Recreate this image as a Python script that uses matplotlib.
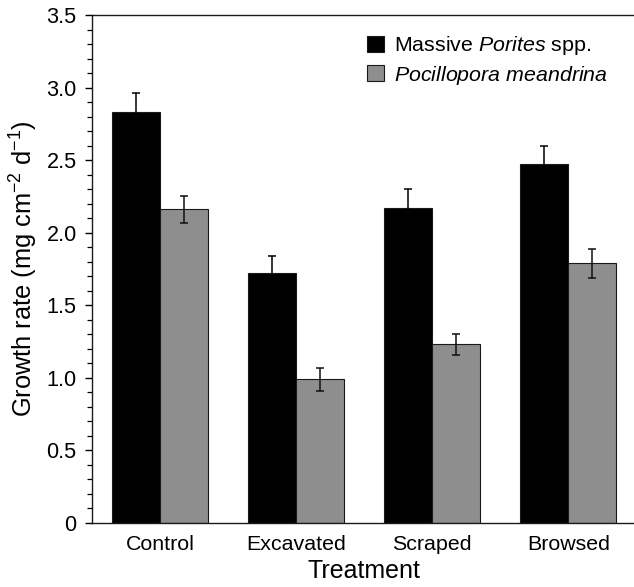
import numpy as np
import matplotlib
matplotlib.use("Agg")
import matplotlib.pyplot as plt
from matplotlib.ticker import MultipleLocator, FuncFormatter

plt.rcParams["font.family"] = ["Liberation Sans", "DejaVu Sans"]
plt.rcParams["mathtext.fontset"] = "custom"
plt.rcParams["mathtext.rm"] = "Liberation Sans"
plt.rcParams["mathtext.it"] = "Liberation Sans:italic"

treatments = ["Control", "Excavated", "Scraped", "Browsed"]
porites_mean = [2.83, 1.72, 2.17, 2.47]
porites_se = [0.13, 0.12, 0.13, 0.13]
pocillopora_mean = [2.16, 0.99, 1.23, 1.79]
pocillopora_se = [0.09, 0.08, 0.07, 0.10]

W, H = 634, 587
fig = plt.figure(figsize=(W / 100, H / 100), dpi=100)
ax = fig.add_axes([92 / W, (H - 523) / H, (636.5 - 92) / W, 508 / H])

x = np.arange(len(treatments))
bw = 0.353
ax.bar(x - bw / 2, porites_mean, bw, color="black", edgecolor="#1a1a1a",
       linewidth=0.8, label="Massive $\\mathit{Porites}$ spp.", zorder=2)
ax.bar(x + bw / 2, pocillopora_mean, bw, color="#8e8e8e", edgecolor="#1a1a1a",
       linewidth=0.8, label="$\\mathit{Pocillopora\\ meandrina}$", zorder=2)
ax.errorbar(x - bw / 2, porites_mean, yerr=porites_se, fmt="none",
            ecolor="black", elinewidth=1.1, capsize=2.6, capthick=1.1, zorder=3)
ax.errorbar(x + bw / 2, pocillopora_mean, yerr=pocillopora_se, fmt="none",
            ecolor="#111111", elinewidth=1.1, capsize=2.6, capthick=1.1, zorder=3)

ax.set_xlim(-0.5, 3.5)
ax.set_ylim(0, 3.5)
ax.set_xticks(x)
ax.set_xticklabels(treatments, fontsize=15.4)
ax.tick_params(axis="x", length=0, pad=9)
ax.yaxis.set_major_locator(MultipleLocator(0.5))
ax.yaxis.set_minor_locator(MultipleLocator(0.1))
ax.yaxis.set_major_formatter(FuncFormatter(lambda v, p: "0" if v == 0 else f"{v:.1f}"))
ax.tick_params(axis="y", which="major", length=5, width=1.0, direction="out",
               labelsize=15.6, pad=6)
ax.tick_params(axis="y", which="minor", length=3.5, width=0.9, direction="out")
for s in ax.spines.values():
    s.set_linewidth(1.0)
    s.set_color("#1a1a1a")

ax.set_xlabel("Treatment", fontsize=18, labelpad=3)
ax.set_ylabel("Growth rate (mg cm$^{-2}$ d$^{-1}$)", fontsize=18.3, labelpad=5)

ax.legend(loc="upper left", bbox_to_anchor=(0.505, 0.962), frameon=False,
          fontsize=15.4, handlelength=0.8, handleheight=0.8, handletextpad=0.45,
          labelspacing=0.3, borderpad=0, borderaxespad=0)

fig.savefig("out.png", dpi=100)
